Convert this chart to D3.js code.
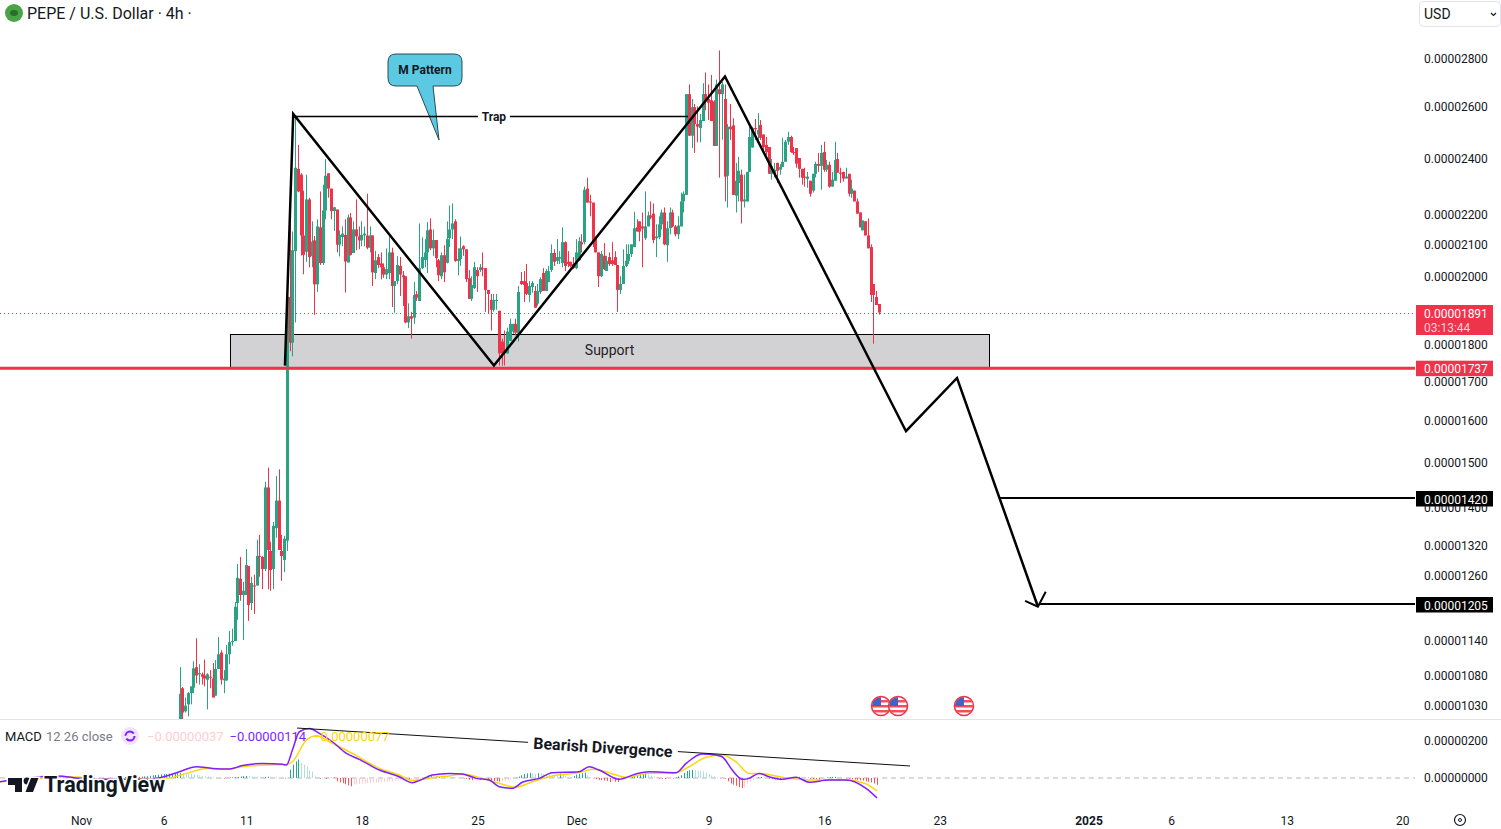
<!DOCTYPE html>
<html>
<head>
<meta charset="utf-8">
<title>PEPE / U.S. Dollar</title>
<script src="https://cdn.jsdelivr.net/npm/d3@7"></script>
<style>
  html, body { margin: 0; padding: 0; background: #fff; overflow: hidden; }
  svg { display: block; font-family: Roboto, sans-serif; }
  .axis path, .axis line { display: none; }
  .axis text { font-family: Roboto, sans-serif; font-size: 12px; fill: #131722; }
</style>
</head>
<body>
<svg id="chart" width="1501" height="829"></svg>
<script>
// --- Datos. Precios en unidades de 0.00000001 USD ---
const candleOpen = [
  1000,1058,1021,1032,1050,1059,1093,1081,1081,1079,
  1072,1077,1074,1046,1090,1118,1071,1071,1115,1136,
  1138,1207,1253,1222,1222,1278,1207,1240,1240,1298,
  1296,1272,1443,1308,1272,1355,1414,1308,1290,1329,
  1937,1805,2079,2361,2340,2130,2077,2252,2063,2114,
  1975,2157,2041,2214,2345,2290,2212,2217,2100,2125,
  2132,2043,2190,2073,2150,2127,2114,2130,2130,2090,
  2130,2010,2060,2040,2028,2005,2010,2075,1970,1985,
  2032,2003,2000,1862,1880,1876,1945,1925,2025,2051,
  2075,2150,2088,2115,2050,2000,2066,2042,2121,2150,
  2177,2048,2054,2095,2085,1994,1931,1964,2019,2019,
  2025,2025,1958,1928,1899,1925,1896,1808,1783,1775,
  1810,1836,1858,1830,1985,1985,1979,1943,1967,1955,
  1917,1952,2010,1955,1982,2019,2073,2048,2055,2041,
  2108,2045,2045,2038,2025,2050,2108,2108,2290,2245,
  2241,2124,2075,2000,2064,2016,2060,2050,2060,2035,
  1958,1976,2032,2048,2070,2092,2157,2177,2160,2121,
  2160,2197,2203,2121,2124,2167,2207,2098,2154,2207,
  2160,2134,2160,2245,2268,2650,2485,2597,2530,2515,
  2542,2650,2630,2625,2620,2446,2670,2650,2630,2336,
  2520,2525,2265,2310,2340,2245,2245,2350,2440,2515,
  2490,2527,2490,2450,2442,2343,2345,2383,2358,2368,
  2387,2462,2480,2423,2438,2401,2361,2333,2325,2318,
  2283,2343,2379,2372,2423,2358,2376,2297,2318,2397,
  2347,2350,2326,2343,2272,2283,2245,2207,2147,2177,
  2130,2092,1976,1937,1916
];
const candleHigh = [
  1093,1060,1043,1052,1061,1103,1143,1098,1084,1106,
  1083,1088,1100,1105,1145,1122,1088,1131,1156,1160,
  1209,1282,1296,1247,1312,1278,1257,1261,1331,1341,
  1298,1456,1488,1327,1368,1469,1484,1341,1339,1960,
  2224,2143,2560,2450,2345,2283,2340,2258,2177,2128,
  2184,2280,2304,2397,2345,2290,2225,2217,2147,2160,
  2184,2200,2205,2177,2252,2160,2177,2160,2272,2160,
  2130,2080,2070,2075,2040,2088,2127,2090,1985,2063,
  2060,2016,2000,1918,1893,1982,1955,2170,2124,2118,
  2174,2187,2150,2115,2054,2075,2098,2177,2231,2238,
  2184,2088,2127,2098,2085,2019,2000,2045,2028,2038,
  2075,2025,1958,1946,1946,1946,1896,1816,1839,1847,
  1873,1858,1873,1970,2013,2016,2038,1985,1985,1970,
  1976,1997,2025,2022,2032,2101,2085,2118,2079,2157,
  2111,2079,2045,2060,2118,2124,2134,2297,2329,2268,
  2241,2127,2075,2079,2105,2064,2075,2108,2079,2035,
  2000,2085,2101,2101,2101,2210,2184,2177,2207,2280,
  2210,2245,2238,2167,2194,2217,2224,2177,2224,2217,
  2165,2194,2276,2280,2650,2690,2630,2610,2600,2570,
  2695,2740,2690,2730,2625,2710,2835,2700,2690,2530,
  2610,2553,2383,2405,2358,2340,2350,2520,2520,2550,
  2573,2546,2490,2480,2442,2397,2383,2383,2378,2477,
  2469,2500,2485,2442,2438,2401,2361,2365,2350,2318,
  2343,2387,2420,2450,2462,2394,2387,2350,2462,2420,
  2365,2350,2365,2343,2322,2283,2255,2207,2180,2177,
  2187,2101,1976,1955,1916
];
const candleLow = [
  995,1005,1019,1013,1032,1050,1066,1064,1064,1061,
  1024,1058,1043,1046,1090,1064,1050,1070,1098,1130,
  1138,1176,1211,1140,1222,1174,1194,1187,1240,1257,
  1233,1268,1233,1230,1233,1335,1310,1249,1266,1308,
  1781,1767,1862,2277,2065,2006,2045,2028,2028,1884,
  1952,2035,2035,2184,2258,2184,2145,2075,2062,2095,
  1950,2043,2065,2073,2082,2085,2095,2095,2085,2075,
  1970,1991,2025,1990,1995,1991,1991,1907,1890,1976,
  1940,1910,1860,1846,1816,1858,1925,1925,2022,2028,
  2010,2082,2064,2028,1985,1991,1982,2040,2092,2118,
  2045,2003,2032,2064,1982,1931,1925,1961,1952,2013,
  2000,1893,1888,1839,1893,1899,1742,1742,1742,1775,
  1810,1830,1825,1808,1973,1922,1943,1922,1950,1905,
  1911,1946,1955,1955,1982,2013,2032,2038,2038,2028,
  2016,2028,2028,2022,2022,2048,2075,2101,2241,2194,
  2092,2075,1967,1997,2019,2016,2032,2032,2035,1893,
  1946,1976,2028,2038,2060,2092,2143,2111,2028,2115,
  2160,2184,2105,2060,2118,2150,2098,2045,2134,2157,
  2127,2118,2160,2207,2268,2485,2438,2420,2460,2460,
  2542,2585,2546,2542,2446,2446,2329,2470,2245,2224,
  2469,2268,2207,2245,2170,2224,2245,2350,2440,2469,
  2469,2469,2423,2412,2343,2322,2330,2310,2340,2368,
  2387,2450,2420,2412,2365,2329,2304,2297,2293,2262,
  2276,2330,2350,2286,2350,2350,2293,2297,2318,2347,
  2310,2315,2326,2262,2258,2245,2203,2157,2147,2130,
  2088,1922,1802,1913,1885
];
const candleClose = [
  1049,1019,1030,1050,1061,1091,1079,1083,1077,1074,
  1081,1076,1043,1090,1115,1072,1074,1115,1136,1138,
  1200,1255,1222,1230,1280,1203,1245,1238,1298,1296,
  1272,1443,1310,1270,1360,1414,1310,1298,1333,1937,
  1805,2082,2365,2280,2130,2067,2252,2060,2110,1975,
  2160,2041,2214,2336,2290,2212,2225,2100,2132,2136,
  2046,2190,2067,2150,2127,2114,2132,2136,2090,2130,
  2012,2050,2035,2028,2005,2022,2075,1970,1985,2035,
  2005,1997,1862,1880,1873,1943,1935,2025,2060,2075,
  2147,2088,2115,2057,2003,2066,2012,2118,2150,2170,
  2048,2054,2088,2085,1991,1931,1973,2028,2000,2028,
  2022,1958,1946,1899,1928,1928,1775,1775,1775,1836,
  1858,1858,1833,1952,1976,1973,1946,1970,1979,1905,
  1955,1991,1955,2016,2016,2073,2045,2060,2060,2108,
  2032,2038,2032,2025,2075,2111,2101,2286,2241,2241,
  2108,2075,2000,2070,2022,2048,2038,2038,2035,1958,
  1976,2032,2048,2070,2101,2154,2143,2143,2153,2160,
  2197,2190,2115,2127,2167,2207,2101,2154,2207,2160,
  2134,2163,2245,2272,2650,2485,2597,2530,2520,2546,
  2650,2620,2615,2542,2446,2690,2650,2690,2333,2520,
  2510,2268,2318,2354,2245,2252,2350,2480,2515,2510,
  2507,2477,2442,2423,2343,2372,2358,2354,2368,2387,
  2462,2480,2423,2420,2380,2361,2329,2329,2333,2272,
  2343,2379,2372,2420,2358,2376,2297,2322,2394,2347,
  2343,2326,2333,2272,2290,2245,2203,2157,2180,2130,
  2088,1943,1943,1913,1891
];

// Histograma MACD, empieza 20 velas antes de la primera vela visible
const histValues = [
  5,4,3,4,5,6,8,9,10,12,14,16,18,20,22,22,24,25,26,27,
  27,26,25,24,23,20,18,15,12,10,8,6,4,2,1,-2,-3,2,3,4,
  5,6,8,10,11,10,9,8,7,6,5,6,7,6,5,4,3,2,-3,-3,
  45,72,90,100,80,72,63,40,36,9,5,-4,-2,-5,-4,2,3,-18,-24,-28,
  -34,-40,-45,-36,-34,-32,-30,-30,-28,-27,-25,-24,-23,-22,-20,-20,-18,-18,-15,-14,
  -12,-12,-10,-11,-9,-6,-5,-3,2,4,6,10,8,9,9,8,7,6,5,4,
  3,2,1,-3,-5,-10,-12,-10,-9,-11,-9,-8,-9,-12,-16,-18,-20,-17,-15,-13,
  -8,-3,2,8,14,22,25,28,24,22,26,24,22,20,18,15,14,12,24,20,
  10,6,5,10,18,22,25,30,15,4,-2,-6,-10,-12,-14,-16,-22,-18,-20,-22,
  -14,-8,-2,4,8,12,16,20,22,28,18,12,8,4,-3,-4,-5,-3,-2,-3,
  3,8,15,28,38,42,44,42,40,38,36,30,22,14,8,5,3,2,-4,-18,
  -30,-36,-42,-50,-54,-50,-30,-24,-12,-4,4,5,4,3,-3,-6,-8,-10,-12,-10,
  -6,-3,3,5,6,6,5,2,2,-4,-7,-9,-10,-8,-5,3,4,6,6,5,
  4,2,-2,-4,-7,-8,-10,-12,-14,-18,-20,-24,-30,-37
];

// Lineas MACD y senal: dia (desde el 1 de noviembre) y valor leido
const macdDays = [-4.92,-1.42,-0.08,1.13,4.15,5.18,5.96,6.99,7.96,8.99,9.78,10.99,12.2,12.44,12.8,13.22,13.83,14.43,15.22,16.07,16.85,18.07,19.27,20.06,20.48,21.27,22.3,23.08,23.93,24.72,25.32,26.11,26.72,27.74,28.53,30.16,30.77,31.37,32.58,33.6,34.4,36.03,36.64,37.6,38.45,38.82,39.43,40.04,40.45,41.05,41.66,42.45,43.3,44.08,45.29,46.32,47.53,48.2];
const macdValues = [-20,11,-2,-7,-7,11,34,61,52,49,67,79,74,70,151,250,268,241,196,133,101,43,7,-25,-14,16,25,22,-2,-11,-47,-56,-23,-2,29,34,61,43,-7,22,34,29,79,130,124,115,43,-7,-2,25,7,-7,4,-23,-11,-11,-56,-108];
const signalDays = [-4.92,-2.92,-0.88,-0.08,1.13,5.18,6.38,7.6,8.8,9.78,11.2,12.44,12.8,13.64,14.25,15.22,16.43,18.07,19.27,20.06,20.67,21.69,22.3,23.08,24.3,25.32,26.32,27.33,28.53,30.16,30.97,31.78,33,34.4,36.03,36.82,37.85,38.82,39.65,40.45,41.05,42.45,44.08,46.32,47.53,48.2];
const signalValues = [-20,-7,7,4,-7,-2,25,52,49,61,70,74,88,205,229,187,133,52,16,-14,-7,7,11,22,-2,-29,-50,-20,11,29,47,34,4,25,29,61,112,124,88,25,25,4,-11,-11,-32,-70];

const priceTicks = [2800,2600,2400,2200,2100,2000,1800,1700,1600,1500,1400,1320,1260,1140,1080,1030];
const macdTicks = [200,0];

// Dibujos del autor: dia desde el 1 de noviembre y precio
const zigzagDays = [12.35,12.85,25.0,38.99,49.95,53.04,57.94];
const zigzagPrices = [1742,2570,1742,2723,1574,1709,1200];
const arrowDays = [57.16,57.94,58.41];
const arrowPrices = [1211,1200,1228];
const trapDays = [12.9,36.75];
const trapLabelDay = 25;
const trapPrice = 2560;
const supportDays = [9.02,54.98];
const supportPrices = [1829,1735];
const lastPriceLine = 1888;
const redLevel = 1735;
const targetDays = [55.64,58.07];
const targetPrices = [1420,1205];
const divergenceDays = [13.08,50.2];
const divergenceValues = [270,65];
const eventDays = [48.44,49.47,53.46];

const xTickDates = [[2024,10,1],[2024,10,6],[2024,10,11],[2024,10,18],[2024,10,25],[2024,11,1],[2024,11,9],[2024,11,16],[2024,11,23],[2025,0,1],[2025,0,6],[2025,0,13],[2025,0,20]];
const xTickLabels = ['Nov','6','11','18','25','Dec','9','16','23','2025','6','13','20'];

const green = '#2aa284', red = '#ef334a', ink = '#131722';

const dayMs = 864e5;
const nov1 = Date.UTC(2024,10,1);
const firstCandle = Date.UTC(2024,10,7);
const candleMs = 4 * 36e5;

const svg = d3.select('#chart');
const paneRight = 1415;

const xTime = d3.scaleUtc().domain([nov1, Date.UTC(2025,0,20)]).range([81, 1402.3]);
const xDay = d => xTime(nov1 + d * dayMs);
const xCandle = i => xTime(firstCandle + i * candleMs);
const y = d3.scaleLog().domain([2800,1030]).range([58.5,705.6]);
const yMacd = d3.scaleLinear().domain([200,0]).range([741,778]);
const fmt = v => (v / 1e8).toFixed(8);

svg.append('defs').append('clipPath').attr('id', 'pricePane')
  .append('rect').attr('x', 0).attr('y', 0).attr('width', paneRight).attr('height', 719);

// --- Ejes ---
svg.append('g').attr('class', 'axis').attr('transform', `translate(${paneRight},0.4)`)
  .call(d3.axisRight(y).tickValues(priceTicks).tickSize(0).tickPadding(9).tickFormat(fmt));
svg.append('g').attr('class', 'axis').attr('transform', `translate(${paneRight},0)`)
  .call(d3.axisRight(yMacd).tickValues(macdTicks).tickSize(0).tickPadding(9).tickFormat(fmt));
const xAxis = svg.append('g').attr('class', 'axis').attr('transform', 'translate(0,811)')
  .call(d3.axisBottom(xTime)
    .tickValues(xTickDates.map(d => new Date(Date.UTC(d[0], d[1], d[2]))))
    .tickSize(0).tickPadding(5).tickFormat((d, i) => xTickLabels[i]));
xAxis.selectAll('text').filter((d, i) => xTickLabels[i] === '2025').style('font-weight', 700);

svg.append('line').attr('x1', 0).attr('x2', 1501).attr('y1', 719.5).attr('y2', 719.5).attr('stroke', '#e0e3eb');

// --- Soporte, por debajo de las velas ---
svg.append('rect')
  .attr('x', Math.round(xDay(supportDays[0])) + 0.5).attr('y', Math.round(y(supportPrices[0])) + 0.5)
  .attr('width', Math.round(xDay(supportDays[1]) - xDay(supportDays[0])))
  .attr('height', y(supportPrices[1]) - y(supportPrices[0]))
  .attr('fill', '#d2d2d5').attr('stroke', '#000').attr('stroke-width', 1);
svg.append('text').attr('x', (xDay(supportDays[0]) + xDay(supportDays[1])) / 2)
  .attr('y', (y(supportPrices[0]) + y(supportPrices[1])) / 2 + 4)
  .attr('text-anchor', 'middle').attr('font-size', 14).attr('fill', '#222').text('Support');

// --- Velas ---
const candles = svg.append('g').attr('clip-path', 'url(#pricePane)');
const candleIdx = d3.range(candleOpen.length);
const candleColor = i => candleClose[i] >= candleOpen[i] ? green : red;
const candleLeft = i => Math.round(xCandle(i) - 1.5);
candles.selectAll('line.wick').data(candleIdx).join('line').attr('class', 'wick')
  .attr('x1', i => candleLeft(i) + 1.5).attr('x2', i => candleLeft(i) + 1.5)
  .attr('y1', i => y(candleHigh[i])).attr('y2', i => y(candleLow[i]))
  .attr('stroke', candleColor).attr('stroke-width', 1);
candles.selectAll('rect.body').data(candleIdx).join('rect').attr('class', 'body')
  .attr('x', candleLeft).attr('width', 3)
  .attr('y', i => y(Math.max(candleOpen[i], candleClose[i])))
  .attr('height', i => Math.max(1, Math.abs(y(candleOpen[i]) - y(candleClose[i]))))
  .attr('fill', candleColor);

// --- Lineas de nivel ---
svg.append('line').attr('x1', 0).attr('x2', paneRight).attr('y1', y(lastPriceLine)).attr('y2', y(lastPriceLine))
  .attr('stroke', red).attr('stroke-width', 1).attr('stroke-dasharray', '1 3');
svg.append('line').attr('x1', 0).attr('x2', paneRight).attr('y1', y(redLevel)).attr('y2', y(redLevel))
  .attr('stroke', red).attr('stroke-width', 3);
targetPrices.forEach((p, i) => {
  svg.append('line').attr('x1', xDay(targetDays[i])).attr('x2', paneRight)
    .attr('y1', Math.round(y(p))).attr('y2', Math.round(y(p)))
    .attr('stroke', '#000').attr('stroke-width', 2);
});

// --- Zigzag y flecha ---
const zigzag = d3.line().x(d => xDay(d[0])).y(d => y(d[1]));
svg.append('path').attr('d', zigzag(d3.zip(zigzagDays, zigzagPrices)))
  .attr('fill', 'none').attr('stroke', '#000').attr('stroke-width', 2.5);
svg.append('path').attr('d', zigzag(d3.zip(arrowDays, arrowPrices)))
  .attr('fill', 'none').attr('stroke', '#000').attr('stroke-width', 2);

// --- Globo "M Pattern" ---
const balloon = svg.append('g');
balloon.append('path')
  .attr('d', 'M396,54H454Q462,54 462,62V78Q462,86 454,86H433L439,140L417,86H396Q388,86 388,78V62Q388,54 396,54Z')
  .attr('fill', '#5cc9e2').attr('stroke', '#2a4a55').attr('stroke-width', 1);
balloon.append('text').attr('x', 425).attr('y', 74).attr('text-anchor', 'middle')
  .attr('font-size', 12).attr('font-weight', 700).attr('fill', ink).text('M Pattern');

// --- Linea "Trap" ---
svg.append('line').attr('x1', xDay(trapDays[0])).attr('x2', xDay(trapDays[1]))
  .attr('y1', y(trapPrice)).attr('y2', y(trapPrice)).attr('stroke', '#000').attr('stroke-width', 1.3);
const trapX = xDay(trapLabelDay);
svg.append('rect').attr('x', trapX - 16).attr('y', y(trapPrice) - 7).attr('width', 32).attr('height', 14).attr('fill', '#fff');
svg.append('text').attr('x', trapX).attr('y', y(trapPrice) + 4.5).attr('text-anchor', 'middle')
  .attr('font-size', 12).attr('font-weight', 700).attr('fill', ink).text('Trap');

// --- Marcas de eventos (bandera de EE.UU.) ---
eventDays.forEach((d, i) => {
  const id = 'flag' + i;
  const cx = xDay(d), cy = 706;
  const flag = svg.append('g');
  flag.append('clipPath').attr('id', id).append('circle').attr('cx', cx).attr('cy', cy).attr('r', 9);
  flag.append('circle').attr('cx', cx).attr('cy', cy).attr('r', 9.5).attr('fill', '#fff');
  const inner = flag.append('g').attr('clip-path', `url(#${id})`);
  [-6, -1, 4].forEach(o => inner.append('rect').attr('x', cx - 9).attr('y', cy + o).attr('width', 18).attr('height', 2.5).attr('fill', '#ef4f5f'));
  inner.append('rect').attr('x', cx - 9).attr('y', cy - 9).attr('width', 9).attr('height', 9).attr('fill', '#3f63c9');
  flag.append('circle').attr('cx', cx).attr('cy', cy).attr('r', 9.5).attr('fill', 'none').attr('stroke', '#ef3349').attr('stroke-width', 1.6);
});

// --- Panel MACD ---
svg.append('line').attr('x1', 0).attr('x2', paneRight).attr('y1', yMacd(0)).attr('y2', yMacd(0))
  .attr('stroke', '#b2b5be').attr('stroke-dasharray', '5 4');

const histOffset = -20;
svg.append('g').selectAll('line').data(histValues).join('line')
  .attr('x1', (v, i) => Math.round(xCandle(i + histOffset)) + 0.5)
  .attr('x2', (v, i) => Math.round(xCandle(i + histOffset)) + 0.5)
  .attr('y1', yMacd(0)).attr('y2', v => yMacd(v))
  .attr('stroke', (v, i) => {
    const prev = i ? histValues[i - 1] : v;
    if (v >= 0) return v >= prev ? '#26a69a' : '#b2dfdb';
    return v < prev ? '#ff5252' : '#ffcdd2';
  });

const macdLine = d3.line().x(d => xDay(d[0])).y(d => yMacd(d[1])).curve(d3.curveMonotoneX);
svg.append('path').attr('d', macdLine(d3.zip(signalDays, signalValues)))
  .attr('fill', 'none').attr('stroke', '#ffd60a').attr('stroke-width', 1.5);
svg.append('path').attr('d', macdLine(d3.zip(macdDays, macdValues)))
  .attr('fill', 'none').attr('stroke', '#7f1fff').attr('stroke-width', 1.5);

// --- Linea de divergencia con su texto girado ---
const dx1 = xDay(divergenceDays[0]), dy1 = yMacd(divergenceValues[0]);
const dx2 = xDay(divergenceDays[1]), dy2 = yMacd(divergenceValues[1]);
svg.append('line').attr('x1', dx1).attr('y1', dy1).attr('x2', dx2).attr('y2', dy2)
  .attr('stroke', '#111').attr('stroke-width', 1);
const angle = Math.atan2(dy2 - dy1, dx2 - dx1) * 180 / Math.PI;
const divMid = 0.499;
const divergence = svg.append('g')
  .attr('transform', `translate(${dx1 + (dx2 - dx1) * divMid},${dy1 + (dy2 - dy1) * divMid}) rotate(${angle})`);
divergence.append('rect').attr('x', -75).attr('y', -11).attr('width', 150).attr('height', 22).attr('fill', '#fff');
divergence.append('text').attr('y', 6).attr('text-anchor', 'middle')
  .attr('font-size', 16).attr('font-weight', 700).attr('fill', '#131722').text('Bearish Divergence');

// --- Leyenda MACD ---
const legend = svg.append('g').attr('font-size', 13);
legend.append('text').attr('x', 5).attr('y', 741).attr('fill', ink).text('MACD');
legend.append('text').attr('x', 46).attr('y', 741).attr('fill', '#787b86').text('12 26 close');
legend.append('circle').attr('cx', 130).attr('cy', 736).attr('r', 9).attr('fill', '#efe3fd');
legend.append('circle').attr('cx', 130).attr('cy', 736).attr('r', 4.5).attr('fill', 'none').attr('stroke', '#7f1fff').attr('stroke-width', 2).attr('stroke-dasharray', '11 3');
legend.append('text').attr('x', 147).attr('y', 741).attr('fill', '#ffcdd2').text('\u22120.00000037');
legend.append('text').attr('x', 229.5).attr('y', 741).attr('fill', '#7f1fff').text('\u22120.00000114');
legend.append('text').attr('x', 313).attr('y', 741).attr('fill', '#ffd60a').text('\u22120.00000077');

// --- Logo TradingView, con halo blanco como en el original ---
const logo = svg.append('g').attr('fill', '#131722').attr('stroke', '#fff').attr('stroke-width', 3).attr('paint-order', 'stroke');
logo.append('path').attr('d', 'M8,778H22V792H15V785H8Z');
logo.append('circle').attr('cx', 27).attr('cy', 781).attr('r', 3.4);
logo.append('path').attr('d', 'M31,778H38.5L33,792H25.5Z');
logo.append('text').attr('x', 44).attr('y', 792).attr('font-size', 22).attr('font-weight', 700)
  .attr('textLength', 121).attr('lengthAdjust', 'spacingAndGlyphs').text('TradingView');

// --- Cabecera ---
svg.append('circle').attr('cx', 14).attr('cy', 13).attr('r', 9).attr('fill', '#4aa347');
svg.append('ellipse').attr('cx', 14).attr('cy', 13).attr('rx', 4).attr('ry', 3).attr('fill', '#2b6b2e');
svg.append('text').attr('x', 27).attr('y', 19).attr('font-size', 16).attr('fill', ink).text('PEPE / U.S. Dollar \u00b7 4h \u00b7');

svg.append('rect').attr('x', 1419.5).attr('y', 1.5).attr('width', 81).attr('height', 25).attr('rx', 4)
  .attr('fill', '#fff').attr('stroke', '#e0e3eb');
svg.append('text').attr('x', 1424).attr('y', 19).attr('font-size', 14).attr('fill', ink).text('USD');
svg.append('path').attr('d', 'M1491,13L1493.5,15.5L1496,13').attr('fill', 'none').attr('stroke', ink).attr('stroke-width', 1.2);

// --- Etiquetas de precio ---
function priceLabel(py, h, color, text) {
  svg.append('rect').attr('x', 1416).attr('y', py).attr('width', 77).attr('height', h).attr('fill', color);
  svg.append('text').attr('x', 1424).attr('y', py + 12.5).attr('font-size', 12).attr('fill', '#fff').text(text);
}
priceLabel(y(lastPriceLine) - 8.5, 30, red, fmt(1891));
svg.append('text').attr('x', 1424).attr('y', y(lastPriceLine) + 18).attr('font-size', 12).attr('fill', '#fbd0d5').text('03:13:44');
priceLabel(y(redLevel) - 7.5, 15.5, red, fmt(1737));
targetPrices.forEach(p => priceLabel(Math.round(y(p)) - 7, 15.5, '#000', fmt(p)));

// --- Icono de ajustes ---
svg.append('circle').attr('cx', 1460).attr('cy', 820).attr('r', 5.5).attr('fill', 'none').attr('stroke', ink).attr('stroke-width', 1.2);
svg.append('circle').attr('cx', 1460).attr('cy', 820).attr('r', 1.5).attr('fill', 'none').attr('stroke', ink).attr('stroke-width', 1);
</script>
</body>
</html>
